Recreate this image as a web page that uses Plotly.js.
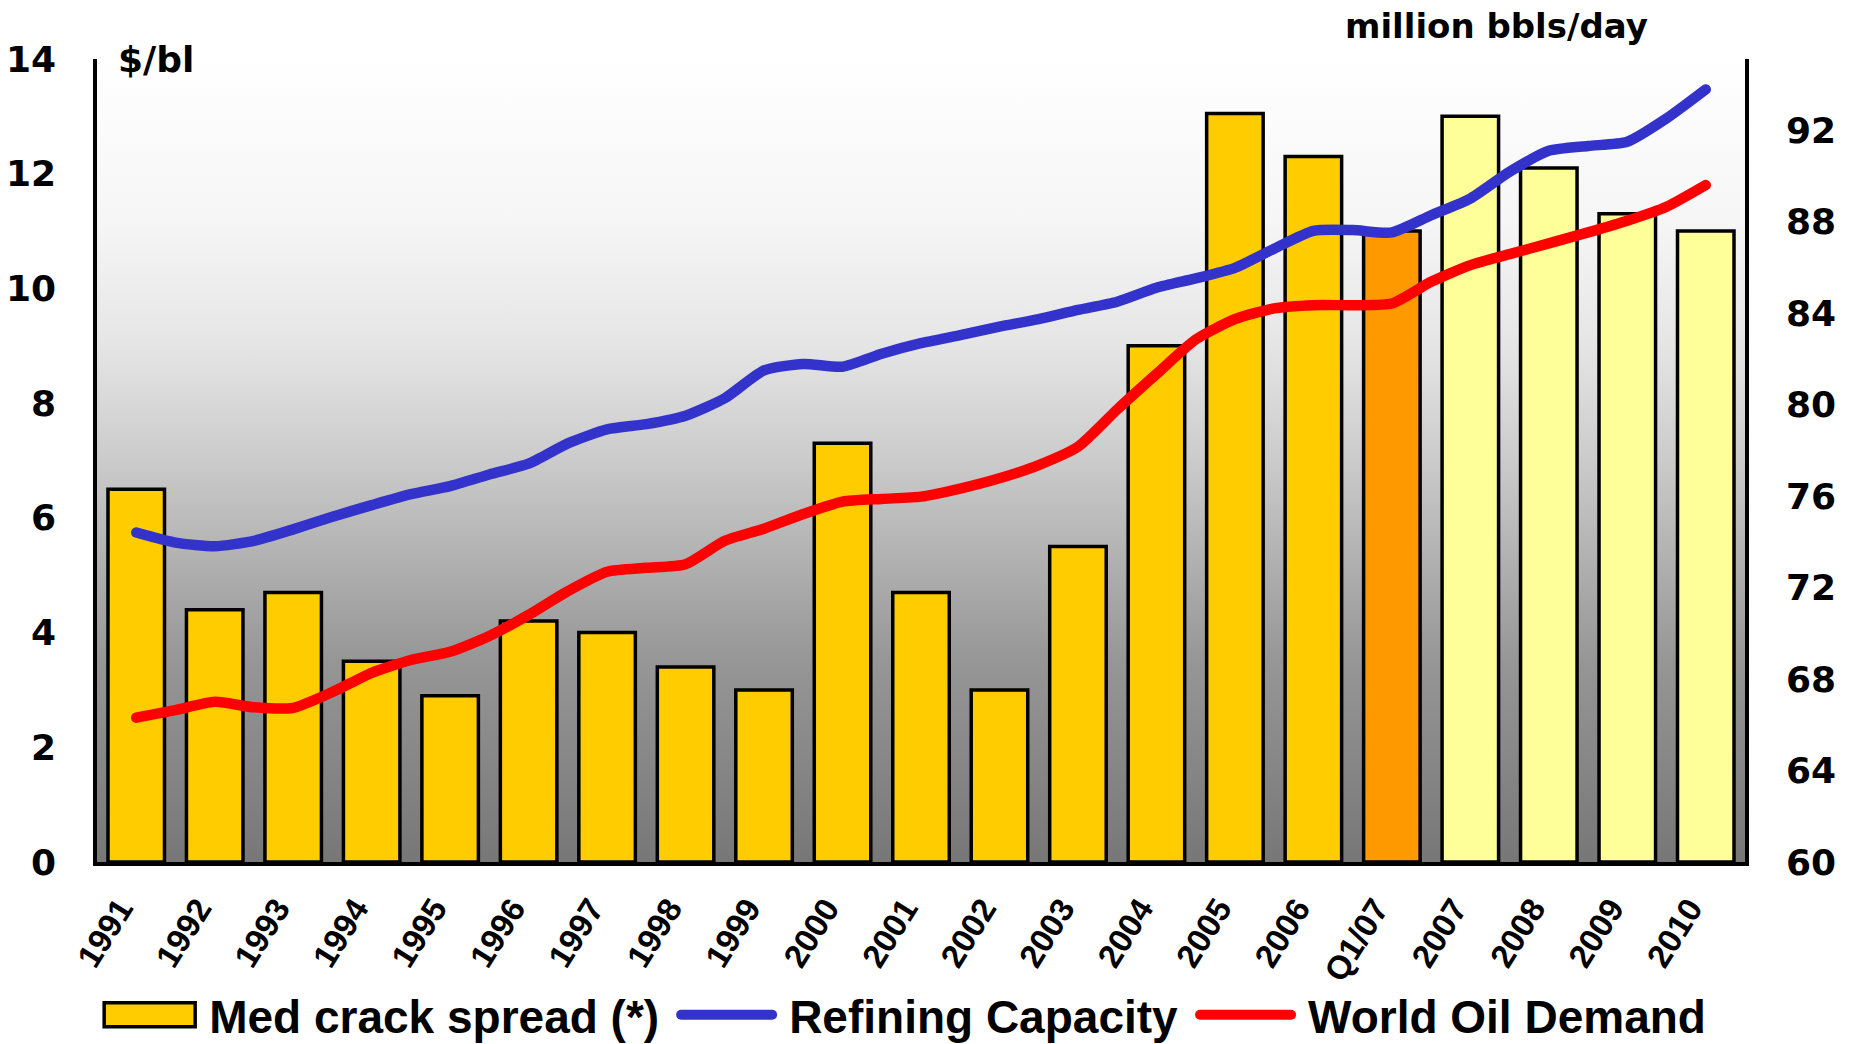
<!DOCTYPE html>
<html>
<head>
<meta charset="utf-8">
<script src="https://cdn.plot.ly/plotly-3.0.1.min.js"></script>
<style>
  html, body { margin: 0; padding: 0; background: #ffffff; }
  #chart { width: 1850px; height: 1044px; }
  #chart .scatterlayer .js-line { stroke-linecap: round !important; stroke-linejoin: round !important; }
  #chart .legend .legendlines path { stroke-linecap: round !important; }
</style>
</head>
<body>
<div id="chart"></div>
<script>
// ---- data ----
const categories = ['1991','1992','1993','1994','1995','1996','1997','1998','1999','2000',
                    '2001','2002','2003','2004','2005','2006','Q1/07','2007','2008','2009','2010'];
const periodType = ['a','a','a','a','a','a','a','a','a','a','a','a','a','a','a','a','q','f','f','f','f'];
const crackSpread = [6.5, 4.4, 4.7, 3.5, 2.9, 4.2, 4.0, 3.4, 3.0, 7.3,
                     4.7, 3.0, 5.5, 9.0, 13.05, 12.3, 11.0, 13.0, 12.1, 11.3, 11.0];

// half-period readings (one every half category step, from 1991 to 2010)
const refiningCapacity = [74.4, 73.96, 73.8, 74.04, 74.54, 75.09, 75.6, 76.08, 76.43, 76.94,
                          77.41, 78.3, 78.91, 79.14, 79.51, 80.27, 81.49, 81.77, 81.65, 82.22,
                          82.68, 83.03, 83.4, 83.73, 84.13, 84.49, 85.1, 85.51, 85.97, 86.81,
                          87.59, 87.62, 87.52, 88.27, 89.0, 90.17, 91.09, 91.3, 91.48, 92.5, 93.77];
const worldOilDemand = [66.31, 66.64, 67.0, 66.76, 66.74, 67.43, 68.27, 68.83, 69.19, 69.88,
                        70.8, 71.84, 72.69, 72.86, 73.02, 74.04, 74.57, 75.21, 75.75, 75.87,
                        75.97, 76.32, 76.77, 77.35, 78.15, 79.78, 81.33, 82.84, 83.73, 84.2,
                        84.34, 84.34, 84.41, 85.36, 86.09, 86.57, 87.04, 87.52, 88.03, 88.64, 89.59];

const leftTicks = [0, 2, 4, 6, 8, 10, 12, 14];
const rightTicks = [60, 64, 68, 72, 76, 80, 84, 88, 92];

// ---- styling ----
const typeColor = { a: '#FFCC00', q: '#FF9900', f: '#FFFF99' };
const barColors = periodType.map(t => typeColor[t]);
const catPos = categories.map((c, i) => i);
const linePos = refiningCapacity.map((v, i) => i * 0.5);

const boldAxis = { family: 'DejaVu Sans', size: 36, color: '#000', weight: 'bold' };
const LEGEND_ITEM_W = 115;

const bgSvg = '<svg xmlns="http://www.w3.org/2000/svg" width="100" height="100" viewBox="0 0 100 100" preserveAspectRatio="none">' +
  '<defs><linearGradient id="g" x1="0" y1="0" x2="0" y2="1">' +
  '<stop offset="0" stop-color="#ffffff"/>' +
  '<stop offset="0.2" stop-color="#f6f6f6"/>' +
  '<stop offset="0.35" stop-color="#e6e6e6"/>' +
  '<stop offset="0.5" stop-color="#cbcbcb"/>' +
  '<stop offset="0.75" stop-color="#969696"/>' +
  '<stop offset="1" stop-color="#777777"/>' +
  '</linearGradient></defs><rect x="0" y="0" width="100" height="100" fill="url(#g)"/></svg>';
const bgUri = 'data:image/svg+xml;charset=utf-8,' + encodeURIComponent(bgSvg);

const traces = [
  {
    type: 'bar', name: 'Med crack spread (*)',
    x: catPos, y: crackSpread,
    marker: { color: barColors, line: { color: '#000', width: 3.5 } },
    yaxis: 'y', hoverinfo: 'x+y'
  },
  {
    type: 'scatter', mode: 'lines', name: 'Refining Capacity',
    x: linePos, y: refiningCapacity, yaxis: 'y2',
    line: { color: '#3333CC', width: 10.5, shape: 'spline', smoothing: 0.6 }
  },
  {
    type: 'scatter', mode: 'lines', name: 'World Oil Demand',
    x: linePos, y: worldOilDemand, yaxis: 'y2',
    line: { color: '#FF0000', width: 10.5, shape: 'spline', smoothing: 0.6 }
  }
];

const layout = {
  width: 1850, height: 1044,
  margin: { l: 97, r: 105, t: 59, b: 182, pad: 0 },
  paper_bgcolor: '#ffffff',
  plot_bgcolor: 'rgba(0,0,0,0)',
  font: { family: 'Liberation Sans', color: '#000' },
  bargap: 0.28,
  showlegend: true,
  legend: {
    orientation: 'h', xref: 'container', x: 0.0455, xanchor: 'left',
    yref: 'container', y: 0.028, yanchor: 'middle',
    font: { family: 'Liberation Sans', size: 46, color: '#000', weight: 'bold' },
    itemwidth: LEGEND_ITEM_W, traceorder: 'normal', bgcolor: 'rgba(0,0,0,0)'
  },
  xaxis: {
    range: [-0.5, 20.5], tickmode: 'array', tickvals: catPos, ticktext: categories,
    tickangle: -58, ticks: '', showgrid: false, zeroline: false,
    showline: true, linecolor: '#000', linewidth: 4, automargin: false,
    tickfont: { family: 'Liberation Sans', size: 33, color: '#000', weight: 'bold' },
    ticklabelstandoff: 10, ticklabelshift: -16
  },
  yaxis: {
    range: [0, 14], tickmode: 'array', tickvals: leftTicks, ticks: '', automargin: false,
    showgrid: false, zeroline: false, showline: true, linecolor: '#000', linewidth: 3.5,
    tickfont: boldAxis, ticklabelstandoff: 30
  },
  yaxis2: {
    range: [60, 95.1], tickmode: 'array', tickvals: rightTicks, ticks: '', automargin: false,
    overlaying: 'y', side: 'right', showgrid: false, zeroline: false,
    showline: true, linecolor: '#000', linewidth: 3.5,
    tickfont: boldAxis, ticklabelstandoff: 30
  },
  images: [{
    source: bgUri, xref: 'paper', yref: 'paper', x: 0, y: 1, sizex: 1, sizey: 1,
    xanchor: 'left', yanchor: 'top', sizing: 'stretch', layer: 'below'
  }],
  annotations: [
    { text: '$/bl', xref: 'paper', yref: 'paper', x: 0.0115, y: 1.0, xanchor: 'left', yanchor: 'middle',
      showarrow: false, font: boldAxis },
    { text: 'million bbls/day', xref: 'paper', yref: 'paper', x: 0.849, y: 1.041, xanchor: 'center', yanchor: 'middle',
      showarrow: false, font: { family: 'DejaVu Sans', size: 34, color: '#000', weight: 'bold' } }
  ]
};

// legend keys shaped like the original: a wide framed rectangle and long rounded lines
function shapeLegendKeys() {
  const groups = document.querySelectorAll('#chart .legend .traces');
  groups.forEach((g, idx) => {
    if (idx === 0) {
      g.querySelectorAll('.legendpoints path').forEach(p => {
        p.removeAttribute('transform');
        p.setAttribute('d', 'M20,-12H111V12H20Z');
      });
    } else {
      g.querySelectorAll('.legendlines path').forEach(p => {
        p.setAttribute('d', 'M17,0H108');
      });
    }
  });
}

const gd = document.getElementById('chart');
Plotly.newPlot(gd, traces, layout, { displayModeBar: false, responsive: false }).then(() => {
  shapeLegendKeys();
  setTimeout(shapeLegendKeys, 50);
  gd.on('plotly_afterplot', shapeLegendKeys);
});
</script>
</body>
</html>
